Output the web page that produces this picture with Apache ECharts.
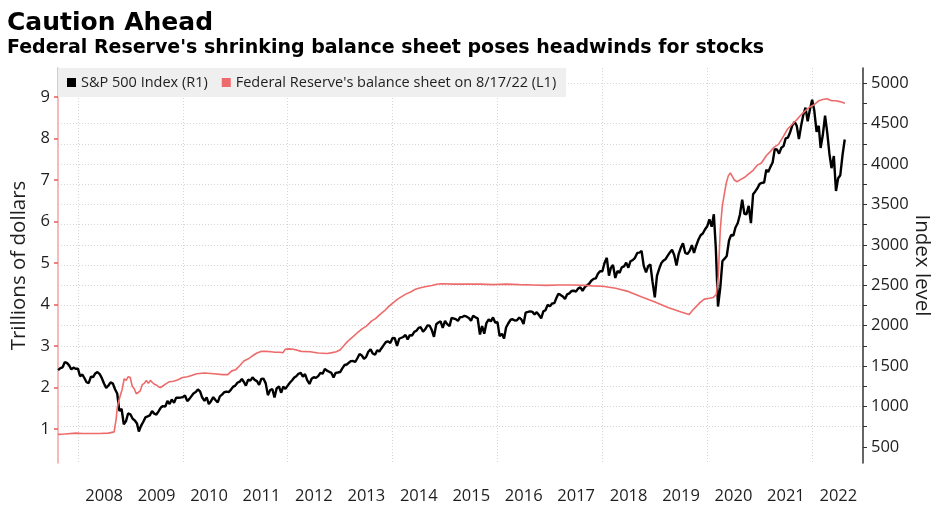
<!DOCTYPE html>
<html><head><meta charset="utf-8">
<script src="https://cdn.jsdelivr.net/npm/echarts@6/dist/echarts.min.js"></script>
<style>html,body{margin:0;padding:0;background:#fff}#c{width:940px;height:505px}</style>
</head><body><div id="c"></div>
<script>
const titleText = 'Caution Ahead';
const subtitleText = "Federal Reserve's shrinking balance sheet poses headwinds for stocks";
const spxName = 'S&P 500 Index (R1)';
const fedName = "Federal Reserve's balance sheet on 8/17/22 (L1)";
const yearLabels = [2008, 2009, 2010, 2011, 2012, 2013, 2014, 2015, 2016, 2017, 2018, 2019, 2020, 2021, 2022];
const leftTicks = [1, 2, 3, 4, 5, 6, 7, 8, 9];
const rightTicks = [500, 1000, 1500, 2000, 2500, 3000, 3500, 4000, 4500, 5000];
const rightMinorTicks = [750, 1250, 1750, 2250, 2750, 3250, 3750, 4250, 4750];

// S&P 500, semi-monthly readings (1st and 16th of each month) starting 2007-08-16
const spxStart = [2007, 8, 16];
const spxValues = [
  1450, 1474, 1484, 1547, 1539, 1508, 1458, 1481, 1467,
  1468, 1374, 1395, 1349, 1300, 1288, 1370, 1364, 1409, 1425, 1400, 1350, 1284, 1230, 1260, 1298, 1283, 1213, 1161, 946, 968, 780, 816, 913,
  903, 850, 826, 789, 690, 760, 811, 865, 877, 890, 942, 911, 900, 940, 987, 1004, 998, 1068, 1029, 1087, 1045, 1109, 1108, 1109,
  1115, 1136, 1066, 1094, 1115, 1160, 1178, 1210, 1187, 1110, 1070, 1114, 1030, 1065, 1115, 1080, 1050, 1125, 1146, 1176, 1184, 1178, 1206, 1242,
  1258, 1293, 1307, 1340, 1306, 1257, 1332, 1319, 1360, 1329, 1314, 1267, 1340, 1345, 1286, 1140, 1204, 1216, 1110, 1224, 1250, 1170, 1244, 1219,
  1258, 1293, 1324, 1358, 1374, 1404, 1415, 1369, 1400, 1325, 1278, 1343, 1362, 1353, 1376, 1415, 1406, 1465, 1444, 1430, 1415, 1360, 1416, 1420,
  1426, 1472, 1513, 1519, 1518, 1561, 1562, 1550, 1597, 1650, 1631, 1590, 1614, 1677, 1706, 1655, 1640, 1697, 1680, 1721, 1762, 1798, 1806, 1786,
  1848, 1845, 1750, 1838, 1859, 1860, 1885, 1830, 1883, 1877, 1924, 1937, 1973, 1981, 1925, 1955, 2003, 1999, 1946, 1862, 2018, 2039, 2053, 1972,
  2058, 2019, 1995, 2097, 2104, 2081, 2059, 2106, 2108, 2123, 2111, 2096, 2060, 2124, 2103, 2092, 1890, 1995, 1900, 2033, 2079, 2053, 2102, 2040,
  2044, 1870, 1900, 1840, 1978, 2027, 2073, 2080, 2065, 2066, 2100, 2077, 2020, 2162, 2170, 2178, 2171, 2139, 2168, 2133, 2090, 2177, 2191, 2258,
  2239, 2275, 2279, 2347, 2395, 2381, 2362, 2329, 2388, 2400, 2430, 2433, 2423, 2459, 2476, 2430, 2477, 2500, 2519, 2557, 2579, 2585, 2642, 2675,
  2674, 2776, 2840, 2620, 2714, 2752, 2590, 2677, 2655, 2722, 2735, 2780, 2718, 2798, 2813, 2840, 2901, 2904, 2924, 2740, 2660, 2736, 2760, 2545,
  2351, 2616, 2707, 2776, 2804, 2822, 2867, 2907, 2940, 2876, 2744, 2887, 2964, 3020, 2900, 2888, 2926, 2997, 2900, 2990, 3067, 3120, 3141, 3191,
  3231, 3316, 3225, 3380, 2954, 2237, 2470, 2800, 2830, 2863, 3055, 3124, 3115, 3215, 3271, 3373, 3560, 3385, 3380, 3483, 3270, 3627, 3662, 3701,
  3756, 3768, 3773, 3932, 3901, 3963, 4020, 4185, 4181, 4130, 4202, 4223, 4319, 4327, 4395, 4479, 4524, 4473, 4310, 4471, 4613, 4700, 4530, 4669,
  4796, 4663, 4400, 4475, 4200, 4357, 4600, 4393, 4132, 3950, 4101, 3667, 3825, 3863, 4119, 4305
];

// Federal Reserve total assets, trillions of dollars
const fedDates = [
  '2007-08-15','2007-10-01','2007-12-19','2008-02-01','2008-04-01','2008-06-01','2008-08-01','2008-09-10','2008-09-17','2008-09-24',
  '2008-10-01','2008-10-08','2008-10-22','2008-11-05','2008-11-19','2008-12-03','2008-12-17','2008-12-31','2009-01-14','2009-01-28',
  '2009-02-11','2009-02-25','2009-03-11','2009-03-25','2009-04-08','2009-04-22','2009-05-06','2009-05-20','2009-06-03','2009-06-17',
  '2009-07-01','2009-07-15','2009-07-29','2009-08-12','2009-09-02','2009-09-30','2009-10-28','2009-11-25','2009-12-30','2010-02-03',
  '2010-03-03','2010-04-07','2010-06-02','2010-08-04','2010-10-06','2010-11-10','2010-12-08','2011-01-05','2011-02-02','2011-03-02',
  '2011-04-06','2011-05-04','2011-06-01','2011-06-29','2011-08-03','2011-09-07','2011-10-05','2011-11-02','2011-11-30','2011-12-14',
  '2012-01-11','2012-02-08','2012-03-07','2012-04-04','2012-06-06','2012-08-01','2012-10-03','2012-11-07','2012-12-05','2013-01-02',
  '2013-02-06','2013-03-06','2013-04-03','2013-05-01','2013-06-05','2013-07-03','2013-08-07','2013-09-04','2013-10-02','2013-11-06',
  '2013-12-04','2014-01-08','2014-02-05','2014-03-05','2014-04-02','2014-05-07','2014-06-04','2014-07-02','2014-08-06','2014-09-03',
  '2014-10-01','2014-11-05','2014-12-03','2015-03-04','2015-06-03','2015-09-02','2015-12-02','2016-03-02','2016-06-01','2016-09-07',
  '2016-12-07','2017-03-01','2017-06-07','2017-09-06','2017-10-25','2018-01-03','2018-04-04','2018-07-04','2018-10-03','2019-01-02',
  '2019-04-03','2019-07-03','2019-08-28','2019-09-18','2019-10-16','2019-11-13','2019-12-11','2020-01-15','2020-02-12','2020-03-04',
  '2020-03-18','2020-03-25','2020-04-01','2020-04-15','2020-04-29','2020-05-13','2020-05-27','2020-06-10','2020-06-24','2020-07-08',
  '2020-07-29','2020-08-19','2020-09-16','2020-10-14','2020-11-18','2020-12-16','2021-01-13','2021-02-17','2021-03-17','2021-04-14',
  '2021-05-12','2021-06-16','2021-07-14','2021-08-18','2021-09-15','2021-10-13','2021-11-17','2021-12-15','2022-01-12','2022-02-16',
  '2022-03-16','2022-04-13','2022-05-18','2022-06-15','2022-07-13','2022-08-17'
];
const fedValues = [
  0.87, 0.88, 0.90, 0.89, 0.89, 0.89, 0.90, 0.93, 1.10, 1.24,
  1.50, 1.62, 1.80, 1.96, 2.21, 2.17, 2.26, 2.24, 2.03, 1.97,
  1.85, 1.88, 1.92, 2.07, 2.10, 2.17, 2.10, 2.17, 2.12, 2.08,
  2.06, 2.02, 2.00, 2.03, 2.08, 2.14, 2.15, 2.18, 2.24, 2.26,
  2.29, 2.33, 2.35, 2.33, 2.31, 2.31, 2.40, 2.43, 2.53, 2.64,
  2.70, 2.77, 2.83, 2.87, 2.87, 2.86, 2.85, 2.85, 2.84, 2.92,
  2.93, 2.92, 2.90, 2.87, 2.86, 2.83, 2.82, 2.84, 2.86, 2.91,
  3.05, 3.15, 3.23, 3.32, 3.42, 3.48, 3.60, 3.66, 3.75, 3.85,
  3.95, 4.05, 4.13, 4.19, 4.25, 4.30, 4.36, 4.39, 4.42, 4.44,
  4.46, 4.49, 4.50, 4.49, 4.49, 4.49, 4.48, 4.49, 4.48, 4.47,
  4.46, 4.47, 4.47, 4.46, 4.45, 4.44, 4.39, 4.31, 4.18, 4.06,
  3.93, 3.82, 3.76, 3.85, 3.95, 4.05, 4.13, 4.15, 4.17, 4.24,
  4.67, 5.25, 5.81, 6.37, 6.66, 6.93, 7.10, 7.17, 7.09, 7.00,
  6.96, 7.01, 7.06, 7.14, 7.24, 7.36, 7.41, 7.59, 7.69, 7.80,
  7.86, 8.06, 8.23, 8.35, 8.45, 8.56, 8.68, 8.76, 8.81, 8.91,
  8.94, 8.96, 8.91, 8.91, 8.89, 8.85
];

function decYear(y, m, d) {
  const s = Date.UTC(y, 0, 1), e = Date.UTC(y + 1, 0, 1);
  return y + (Date.UTC(y, m - 1, d) - s) / (e - s);
}
function parseDate(str) { const p = str.split('-').map(Number); return decYear(p[0], p[1], p[2]); }

const spxData = spxValues.map((v, i) => {
  const k = (spxStart[1] - 1) * 2 + (spxStart[2] === 16 ? 1 : 0) + i;
  const y = spxStart[0] + Math.floor(k / 24);
  const m = Math.floor((k % 24) / 2) + 1;
  const d = (k % 2) ? 16 : 1;
  return [decYear(y, m, d), v];
});
const fedData = fedValues.map((v, i) => [parseDate(fedDates[i]), v]);

const gridColor = '#d6d6d6';
const labelColor = '#1e1e1e';
const chart = echarts.init(document.getElementById('c'), null, {renderer: 'canvas'});
chart.setOption({
  animation: false,
  backgroundColor: '#ffffff',
  textStyle: {fontFamily: 'Open Sans'},
  title: [
    {text: titleText, left: 7, top: 11, padding: 0,
     textStyle: {fontFamily: 'DejaVu Sans', fontWeight: 'bold', fontSize: 25, color: '#000'}},
    {text: subtitleText, left: 7, top: 39, padding: 0,
     textStyle: {fontFamily: 'DejaVu Sans', fontWeight: 'bold', fontSize: 19, color: '#000'}}
  ],
  legend: {
    left: 58, top: 68, data: [spxName, fedName], icon: 'rect', itemWidth: 9, itemHeight: 9, itemGap: 14,
    backgroundColor: '#efefef', padding: [7, 10, 7, 9], borderRadius: 0,
    textStyle: {fontSize: 14.5, color: labelColor, fontFamily: 'Open Sans'}
  },
  grid: {left: 58, right: 77, top: 68, bottom: 42, containLabel: false, outerBoundsMode: 'none'},
  xAxis: {
    type: 'value', min: 2007.62, max: 2022.97, splitNumber: 8,
    axisLine: {show: false}, axisTick: {show: false},
    axisLabel: {customValues: yearLabels.map(y => y + 0.5), formatter: v => String(Math.floor(v)),
      margin: 25, fontSize: 16.5, color: labelColor},
    splitLine: {show: true, showMinLine: false, showMaxLine: false, lineStyle: {color: gridColor, type: [1, 2], width: 1}}
  },
  yAxis: [
    {
      type: 'value', position: 'left', min: 0.18, max: 9.7,
      axisLine: {show: true, lineStyle: {color: '#f3a5a5', width: 1.5}},
      axisTick: {show: true, customValues: leftTicks, length: 4, lineStyle: {color: '#e65c5c', width: 1.5}},
      axisLabel: {customValues: leftTicks, margin: 8, fontSize: 16.5, color: labelColor},
      splitLine: {show: false},
      name: 'Trillions of dollars', nameLocation: 'middle', nameGap: 28,
      nameTextStyle: {fontSize: 20.5, color: labelColor}
    },
    {
      type: 'value', position: 'right', min: 300, max: 5190, splitNumber: 10,
      axisLine: {show: true, lineStyle: {color: '#333', width: 1.5}},
      axisTick: {show: true, customValues: rightTicks.concat(rightMinorTicks), length: 4, lineStyle: {color: '#333'}},
      axisLabel: {customValues: rightTicks, margin: 8, fontSize: 16.5, color: labelColor, formatter: v => String(v)},
      splitLine: {show: true, showMinLine: false, showMaxLine: false, lineStyle: {color: gridColor, type: [1, 2], width: 1}},
      name: 'Index level', nameLocation: 'middle', nameRotate: -90, nameGap: 59, nameMoveOverlap: false,
      nameTextStyle: {fontSize: 20.5, color: labelColor, verticalAlign: 'middle'}
    }
  ],
  series: [
    {name: spxName, type: 'line', yAxisIndex: 1, data: spxData, showSymbol: false, color: '#000',
     lineStyle: {color: '#000', width: 2.4}, itemStyle: {color: '#000'}, z: 2},
    {name: fedName, type: 'line', yAxisIndex: 0, data: fedData, showSymbol: false, color: '#ee6b6b',
     lineStyle: {color: '#ee6b6b', width: 1.6}, itemStyle: {color: '#ee6b6b'}, z: 3}
  ]
});
</script></body></html>
